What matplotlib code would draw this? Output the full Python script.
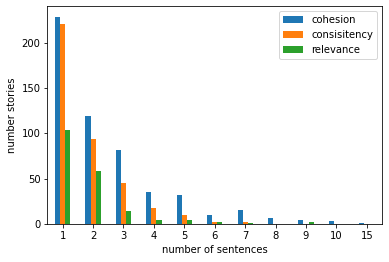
import matplotlib
matplotlib.use("Agg")
import matplotlib.pyplot as plt
import numpy as np

# number of sentences per story
sentences = ["1", "2", "3", "4", "5", "6", "7", "8", "9", "10", "15"]
cohesion = [228, 119, 82, 35, 32, 10, 16, 7, 4, 3, 1]
consisitency = [221, 94, 45, 18, 10, 2, 2, 0, 0, 0, 0]
relevance = [104, 58, 14, 4, 4, 2, 1, 0, 2, 0, 0]

fig = plt.figure(figsize=(389 / 72, 262 / 72), dpi=72)
ax = fig.add_axes([0.122, 0.145, 0.860, 0.831])

x = np.arange(len(sentences))
w = 0.5 / 3
ax.bar(x - w, cohesion, w, color="#1f77b4", label="cohesion")
ax.bar(x, consisitency, w, color="#ff7f0e", label="consisitency")
ax.bar(x + w, relevance, w, color="#2ca02c", label="relevance")

ax.set_xticks(x)
ax.set_xticklabels(sentences)
ax.set_xlim(-0.5, len(sentences) - 0.5)
ax.set_ylim(0, 240.3)
ax.set_yticks([0, 50, 100, 150, 200])
ax.set_xlabel("number of sentences")
ax.set_ylabel("number stories")
ax.legend(loc="upper right")

fig.savefig("out.png", dpi=72)
